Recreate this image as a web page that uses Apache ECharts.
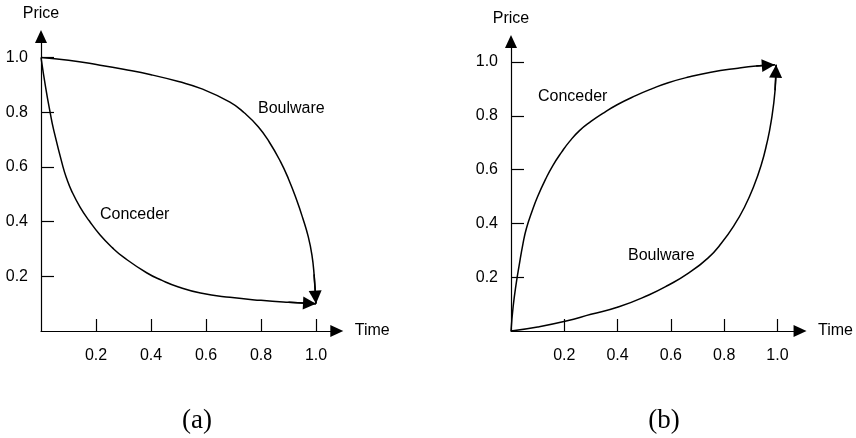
<!DOCTYPE html>
<html>
<head>
<meta charset="utf-8">
<script src="https://cdn.jsdelivr.net/npm/echarts@6/dist/echarts.min.js"></script>
<style>
html,body{margin:0;padding:0;background:#fff;}
#chart{width:856px;height:438px;}
</style>
</head>
<body>
<div id="chart"></div>
<script>
// ---- data ----
const tickValues = [0.2, 0.4, 0.6, 0.8, 1.0];
const tickLabels = ['0.2', '0.4', '0.6', '0.8', '1.0'];

// panel (a)
const boulwareA_t = [0, 0.1, 0.215, 0.3, 0.4, 0.5, 0.58, 0.687, 0.74, 0.79, 0.83, 0.87, 0.9, 0.93, 0.952, 0.972, 0.985, 0.993, 1.0];
const boulwareA_v = [1.0, 0.99, 0.972, 0.957, 0.937, 0.912, 0.887, 0.837, 0.797, 0.747, 0.691, 0.621, 0.556, 0.478, 0.412, 0.344, 0.279, 0.207, 0.1];
const concederA_t = [0, 0.017, 0.033, 0.045, 0.08, 0.095, 0.11, 0.142, 0.176, 0.215, 0.26, 0.3, 0.384, 0.44, 0.5, 0.58, 0.687, 0.8, 0.9, 1.0];
const concederA_v = [1.0, 0.89, 0.8, 0.74, 0.6, 0.553, 0.515, 0.453, 0.402, 0.351, 0.304, 0.27, 0.213, 0.185, 0.161, 0.139, 0.123, 0.112, 0.105, 0.1];

// panel (b)
const concederB_t = [0, 0.008, 0.02, 0.03, 0.045, 0.058, 0.08, 0.1, 0.13, 0.157, 0.19, 0.22, 0.257, 0.3, 0.343, 0.4, 0.468, 0.53, 0.59, 0.666, 0.75, 0.852, 0.92, 0.99];
const concederB_v = [0, 0.09, 0.18, 0.24, 0.325, 0.382, 0.448, 0.5, 0.565, 0.615, 0.665, 0.705, 0.745, 0.779, 0.808, 0.842, 0.875, 0.901, 0.923, 0.944, 0.962, 0.977, 0.985, 0.99];
const boulwareB_t = [0, 0.1, 0.207, 0.3, 0.405, 0.517, 0.59, 0.666, 0.74, 0.79, 0.84, 0.877, 0.91, 0.939, 0.96, 0.976, 0.991, 0.995];
const boulwareB_v = [0, 0.015, 0.037, 0.062, 0.09, 0.134, 0.17, 0.215, 0.272, 0.327, 0.397, 0.462, 0.535, 0.617, 0.697, 0.777, 0.895, 0.99];

const axisNames = { x: 'Time', y: 'Price' };
const curveNames = { con: 'Conceder', boul: 'Boulware' };
const panelCaptions = ['(a)', '(b)'];

// ---- helpers ----
function zip(t, v) { return t.map((x, i) => [x, v[i]]); }
const FONT = 'Liberation Sans, Arial, Helvetica, sans-serif';
const INK = '#000';
const fmt = v => { const i = tickValues.findIndex(t => Math.abs(t - v) < 1e-6); return i >= 0 ? tickLabels[i] : ''; };

function xAxisCfg(gi, max) {
  return {
    type: 'value', gridIndex: gi, min: 0, max: max,
    name: axisNames.x, nameLocation: 'end', nameGap: 18,
    nameTextStyle: { color: INK, fontSize: 16, fontFamily: FONT, verticalAlign: 'middle' },
    axisLine: { show: true, onZero: false, symbol: ['none', 'triangle'], symbolSize: [12, 13], lineStyle: { color: INK, width: 1.2 } },
    axisTick: { show: true, inside: true, length: 12, customValues: tickValues, lineStyle: { color: INK, width: 1.2 } },
    axisLabel: { show: true, margin: 17, color: INK, fontSize: 16, fontFamily: FONT, customValues: tickValues, formatter: fmt },
    splitLine: { show: false }
  };
}
function yAxisCfg(gi, max) {
  return {
    type: 'value', gridIndex: gi, min: 0, max: max,
    name: axisNames.y, nameLocation: 'end', nameGap: 15,
    nameTextStyle: { color: INK, fontSize: 16, fontFamily: FONT },
    axisLine: { show: true, onZero: false, symbol: ['none', 'triangle'], symbolSize: [12, 13], lineStyle: { color: INK, width: 1.2 } },
    axisTick: { show: true, inside: true, length: 13, customValues: tickValues, lineStyle: { color: INK, width: 1.2 } },
    axisLabel: { show: true, margin: 13, color: INK, fontSize: 16, fontFamily: FONT, customValues: tickValues, formatter: fmt },
    splitLine: { show: false }
  };
}
function curve(name, gi, data) {
  const n = data.length;
  return {
    type: 'line', name: name, xAxisIndex: gi, yAxisIndex: gi,
    data: data, smooth: 0.5, showSymbol: false, symbol: 'none', clip: false,
    lineStyle: { color: INK, width: 1.5 },
    silent: true,
    markLine: {
      silent: true, symbol: ['none', 'triangle'], symbolSize: 13, symbolOffset: [[0, 0], [0, 6.5]],
      label: { show: false },
      lineStyle: { color: INK, width: 1.5, type: 'solid' },
      data: [[{ coord: data[n - 2] }, { coord: data[n - 1] }]]
    }
  };
}

// panel geometry (px per unit)
const A = { x0: 41, xs: 275, y0: 331, ys: 273.5, xMax: 1.0756, yMax: 1.0768 };
const B = { x0: 511, xs: 268.75, y0: 331, ys: 269, xMax: 1.0847, yMax: 1.0762 };
function gridOf(P) {
  return { left: P.x0, top: P.y0 - P.ys * P.yMax, width: P.xs * P.xMax, height: P.ys * P.yMax, containLabel: false };
}

const chart = echarts.init(document.getElementById('chart'), null, { renderer: 'canvas' });
chart.setOption({
  backgroundColor: '#fff',
  animation: false,
  grid: [gridOf(A), gridOf(B)],
  xAxis: [xAxisCfg(0, A.xMax), xAxisCfg(1, B.xMax)],
  yAxis: [yAxisCfg(0, A.yMax), yAxisCfg(1, B.yMax)],
  series: [
    curve(curveNames.boul, 0, zip(boulwareA_t, boulwareA_v)),
    curve(curveNames.con, 0, zip(concederA_t, concederA_v)),
    curve(curveNames.con, 1, zip(concederB_t, concederB_v)),
    curve(curveNames.boul, 1, zip(boulwareB_t, boulwareB_v))
  ],
  graphic: [
    { type: 'text', x: 258, y: 109, style: { text: curveNames.boul, fill: INK, fontSize: 16, fontFamily: FONT, align: 'left', verticalAlign: 'middle' } },
    { type: 'text', x: 100, y: 215, style: { text: curveNames.con, fill: INK, fontSize: 16, fontFamily: FONT, align: 'left', verticalAlign: 'middle' } },
    { type: 'text', x: 538, y: 97, style: { text: curveNames.con, fill: INK, fontSize: 16, fontFamily: FONT, align: 'left', verticalAlign: 'middle' } },
    { type: 'text', x: 628, y: 256, style: { text: curveNames.boul, fill: INK, fontSize: 16, fontFamily: FONT, align: 'left', verticalAlign: 'middle' } },
    { type: 'text', x: 197, y: 421, style: { text: panelCaptions[0], fill: INK, fontSize: 27, fontFamily: 'Liberation Serif, Times New Roman, serif', align: 'center', verticalAlign: 'middle' } },
    { type: 'text', x: 664, y: 421, style: { text: panelCaptions[1], fill: INK, fontSize: 27, fontFamily: 'Liberation Serif, Times New Roman, serif', align: 'center', verticalAlign: 'middle' } }
  ]
});
</script>
</body>
</html>
